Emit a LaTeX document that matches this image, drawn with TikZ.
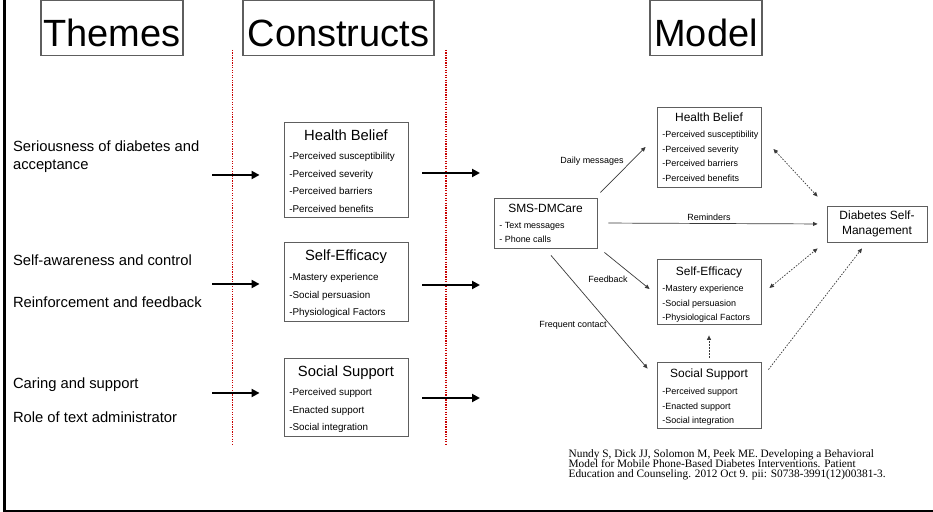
\documentclass[tikz,border=0pt]{standalone}
\usepackage{fontspec}
\setmainfont{Liberation Sans}
\newfontfamily\citefont{Liberation Serif}
\newcommand{\citesize}{\citefont\fontsize{6.45}{5.8}\selectfont\lineskiplimit=-10pt\relax}
\usetikzlibrary{arrows.meta}
\definecolor{boxgray}{HTML}{5E5E5E}
\definecolor{linegray}{HTML}{3A3A3A}
\definecolor{dotred}{HTML}{C80000}

\begin{document}
\begin{tikzpicture}[x=0.2mm, y=-0.2mm,
    heading/.style={draw=boxgray, line width=0.6pt, font=\fontsize{21.6}{26}\selectfont, text height=21.4pt, text depth=0pt, minimum height=10.9mm},
    theme/.style={font=\fontsize{8.4}{10.2}\selectfont, align=left},
    cbox/.style={draw=boxgray, line width=0.5pt, minimum width=24.8mm},
    ctitle/.style={font=\fontsize{8.4}{10}\selectfont, anchor=base},
    citems/.style={font=\fontsize{5.6}{9.92}\selectfont, align=left, anchor=north west},
    mbox/.style={draw=boxgray, line width=0.5pt, minimum width=20.8mm},
    mtitle/.style={font=\fontsize{6.8}{8}\selectfont, anchor=base},
    mitems/.style={font=\fontsize{5.1}{8.4}\selectfont, align=left, anchor=north west},
    mlabel/.style={font=\fontsize{5.1}{6}\selectfont},
    mtip/.tip={Triangle[length=0.9mm, width=0.8mm]},
    bigarrow/.style={line width=1.1pt, -{Triangle[length=1.6mm, width=1.6mm]}},
    marrow/.style={draw=linegray, line width=0.4pt, -mtip},
    dotarrow/.style={draw=linegray, line width=0.4pt, dash pattern=on 0.9pt off 0.8pt, mtip-mtip},
    dotline/.style={draw=linegray, line width=0.4pt, dash pattern=on 0.9pt off 0.8pt, -mtip},
    divider/.style={draw=dotred, line width=0.7pt, dash pattern=on 0.7pt off 0.7pt}]
    \tikzstyle{every node}+=[inner sep=0pt]
    \useasboundingbox (0,0) rectangle (933,512);
    \draw [line width=0.5mm] (4.6,0) -- (4.6,511) -- (933,511);
    \draw [divider] (232.7,50) -- (232.7,445);
    \draw [divider] (446,50) -- (446,445);

    \node [heading, minimum width=28.4mm] (themes) at (112,27.8) {Themes};
    \node [heading, minimum width=38.2mm] (constructs) at (338.5,27.8) {Constructs};
    \node [heading, minimum width=22.4mm] (model) at (706,27.8) {Model};

    \node [theme, anchor=north west] (th1) at (12.7,140.5) {Seriousness of diabetes and\\acceptance};
    \node [theme, anchor=base west] (th2) at (12.7,265.3) {Self-awareness and control};
    \node [theme, anchor=base west] (th3) at (12.7,307.3) {Reinforcement and feedback};
    \node [theme, anchor=base west] (th4) at (12.7,388.3) {Caring and support};
    \node [theme, anchor=base west] (th5) at (12.7,422.3) {Role of text administrator};

    \node [cbox, minimum height=19mm] (hb) at (346,169.5) {};
    \node [ctitle] (hbt) at (346,140.3) {Health Belief};
    \node [citems] (hbi) at (289,152.3) {-Perceived susceptibility\\-Perceived severity\\-Perceived barriers\\-Perceived benefits};
    \node [cbox, minimum height=15.8mm] (se) at (346,281.5) {};
    \node [ctitle] (set) at (346,261) {Self-Efficacy};
    \node [citems] (sei) at (289,273.3) {-Mastery experience\\-Social persuasion\\-Physiological Factors};
    \node [cbox, minimum height=15.6mm] (ss) at (346,397) {};
    \node [ctitle] (sst) at (346,376.3) {Social Support};
    \node [citems] (ssi) at (289,388.3) {-Perceived support\\-Enacted support\\-Social integration};

    \coordinate (t1) at (212,175);
    \coordinate (t2) at (212,284);
    \coordinate (t3) at (212,393);
    \draw [bigarrow, shorten >=4.8mm] (t1) -- (t1 -| hb.west);
    \draw [bigarrow, shorten >=4.8mm] (t2) -- (t2 -| se.west);
    \draw [bigarrow, shorten >=4.8mm] (t3) -- (t3 -| ss.west);
    \coordinate (m1) at (480,173);
    \coordinate (m2) at (480,285);
    \coordinate (m3) at (480,398);
    \draw [bigarrow, shorten <=2.8mm] (m1 -| hb.east) -- (m1);
    \draw [bigarrow, shorten <=2.8mm] (m2 -| se.east) -- (m2);
    \draw [bigarrow, shorten <=2.8mm] (m3 -| ss.east) -- (m3);

    \node [mbox, minimum width=20.6mm, minimum height=10mm] (sms) at (545.5,223) {};
    \node [mtitle] (smst) at (545.5,212.3) {SMS-DMCare};
    \node [mitems] (smsi) at (499,221.6) {- Text messages\\- Phone calls};
    \node [mbox, minimum height=16mm] (hbm) at (709,147) {};
    \node [mtitle] (hbmt) at (709,121.3) {Health Belief};
    \node [mitems] (hbmi) at (662,130.6) {-Perceived susceptibility\\-Perceived severity\\-Perceived barriers\\-Perceived benefits};
    \node [mbox, minimum height=13mm] (sem) at (709,291.5) {};
    \node [mtitle] (semt) at (709,275.3) {Self-Efficacy};
    \node [mitems] (semi) at (662,284.6) {-Mastery experience\\-Social persuasion\\-Physiological Factors};
    \node [mbox, minimum height=13.2mm] (ssm) at (709,395) {};
    \node [mtitle] (ssmt) at (709,377.3) {Social Support};
    \node [mitems] (ssmi) at (662,387.6) {-Perceived support\\-Enacted support\\-Social integration};
    \node [mbox, minimum width=20mm, minimum height=7.2mm, font=\fontsize{6.8}{8.5}\selectfont, align=center] (dsm) at (877,224) {Diabetes Self-\\Management};

    \draw [marrow] ([shift={(0.6mm,1mm)}]sms.north east) -- ([xshift=-2.2mm]hbm.west);
    \draw [marrow, shorten <=2.2mm, shorten >=1.8mm] (sms.east) -- (dsm.west);
    \draw [marrow] ([shift={(1.4mm,-0.8mm)}]sms.south east) -- ([shift={(-1.4mm,0.5mm)}]sem.west);
    \draw [marrow] ([shift={(1.1mm,-1.4mm)}]sms.south) -- ([shift={(-1.8mm,-1.4mm)}]ssm.north west);
    \draw [dotarrow] ([shift={(2.4mm,-0.4mm)}]hbm.east) -- ([shift={(-1.8mm,1.8mm)}]dsm.north west);
    \draw [dotarrow] ([shift={(1.6mm,0.7mm)}]sem.east) -- ([shift={(-1.8mm,-1.2mm)}]dsm.south west);
    \draw [dotline] ([shift={(1.4mm,-1.6mm)}]ssm.north east) -- ([shift={(-3mm,-1.2mm)}]dsm.south);
    \draw [dotline, shorten <=0.8mm, shorten >=2.2mm] (ssm.north) -- (sem.south);

    \node [mlabel] (daily) at (592,161) {Daily messages};
    \node [mlabel] (remind) at (709,217) {Reminders};
    \node [mlabel] (feed) at (608,279) {Feedback};
    \node [mlabel] (freq) at (573,325) {Frequent contact};

    \node [font=\citesize, align=left, anchor=north west] (cite) at (568.3,449) {Nundy S, Dick JJ, Solomon M, Peek ME. Developing a Behavioral\\Model for Mobile Phone-Based Diabetes Interventions. Patient\\Education and Counseling. 2012 Oct 9. pii: S0738-3991(12)00381-3.};
\end{tikzpicture}
\end{document}
